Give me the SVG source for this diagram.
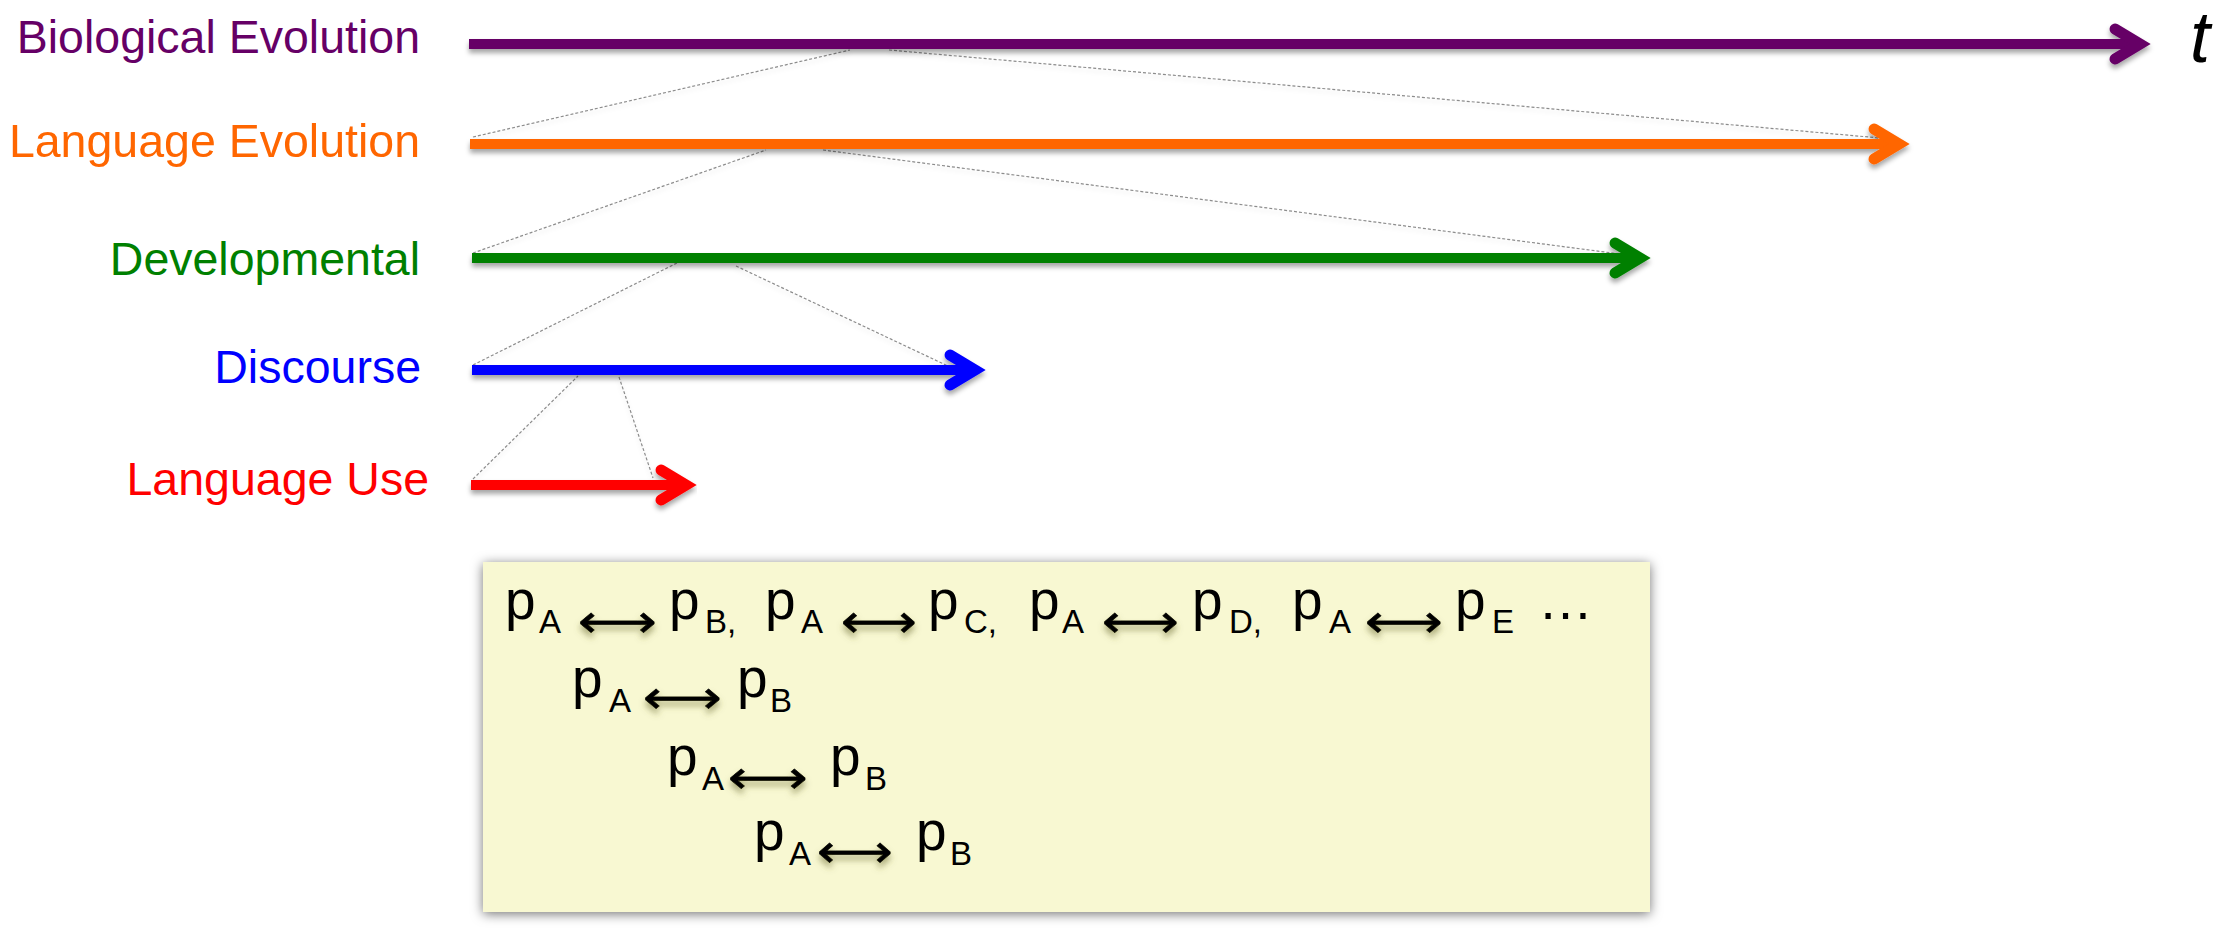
<svg xmlns="http://www.w3.org/2000/svg" xmlns:xlink="http://www.w3.org/1999/xlink" width="2230" height="930" viewBox="0 0 2230 930">
<defs>
<style>
.lbl{font-family:"Liberation Sans",Arial,sans-serif;font-size:46.5px;text-anchor:end}
.tl{fill:none;stroke-width:10;stroke-linecap:butt}
.zoom{fill:none;stroke:#8c8c8c;stroke-width:1.2;stroke-dasharray:3 2}
.bx{font-family:"Liberation Sans",Arial,sans-serif;fill:#000}
.m{font-family:"Liberation Sans Narrow","Liberation Sans",Arial,sans-serif;font-size:55px}
.s{font-size:33px}
.ar{font-family:"DejaVu Sans",sans-serif;font-size:46px;fill:#000;stroke:#000;stroke-width:0.6}
</style>
<path id="head" d="M-36,-15 L-11,0 L-36,15" fill="none" stroke-width="11" stroke-linecap="round" stroke-linejoin="miter"/>
<filter id="sh" x="-5%" y="-50%" width="110%" height="200%">
<feDropShadow dx="0" dy="4" stdDeviation="2.5" flood-color="#000" flood-opacity="0.35"/>
</filter>
<filter id="shl" x="-5%" y="-5%" width="110%" height="110%">
<feDropShadow dx="0" dy="3" stdDeviation="2" flood-color="#000" flood-opacity="0.12"/>
</filter>
<filter id="boxsh" x="-5%" y="-10%" width="110%" height="120%">
<feDropShadow dx="0" dy="2" stdDeviation="6" flood-color="#000" flood-opacity="0.55"/>
</filter>
<filter id="arsh" x="-10%" y="-50%" width="120%" height="200%">
<feDropShadow dx="0" dy="5" stdDeviation="3" flood-color="#6b6b30" flood-opacity="0.55"/>
</filter>
</defs>
<rect width="2230" height="930" fill="#fff"/>

<g id="connectors" filter="url(#shl)">
<line class="zoom" x1="473" y1="137" x2="850" y2="50"/>
<line class="zoom" x1="889" y1="50" x2="1880" y2="138"/>
<line class="zoom" x1="473" y1="253" x2="766" y2="150"/>
<line class="zoom" x1="823" y1="150" x2="1620" y2="254"/>
<line class="zoom" x1="473" y1="365" x2="677" y2="263"/>
<line class="zoom" x1="736" y1="266" x2="950" y2="367"/>
<line class="zoom" x1="473" y1="479" x2="578" y2="376"/>
<line class="zoom" x1="619" y1="377" x2="653" y2="478"/>
</g>

<g id="biological">
<text class="lbl" x="420" y="53" fill="#660066">Biological Evolution</text>
<g filter="url(#sh)" stroke="#660066">
<line class="tl" x1="469" y1="44" x2="2140" y2="44"/>
<use xlink:href="#head" x="2151" y="44"/>
</g>
<text x="2190" y="62" font-family="Liberation Sans, Arial, sans-serif" font-style="italic" font-size="72" fill="#000">t</text>
</g>

<g id="language-evolution">
<text class="lbl" x="420" y="157" fill="#FF6600">Language Evolution</text>
<g filter="url(#sh)" stroke="#FF6600">
<line class="tl" x1="470" y1="144" x2="1899" y2="144"/>
<use xlink:href="#head" x="1910" y="144"/>
</g>
</g>

<g id="developmental">
<text class="lbl" x="420" y="275" fill="#008000">Developmental</text>
<g filter="url(#sh)" stroke="#008000">
<line class="tl" x1="472" y1="258" x2="1640" y2="258"/>
<use xlink:href="#head" x="1651" y="258"/>
</g>
</g>

<g id="discourse">
<text class="lbl" x="421" y="383" fill="#0000FF">Discourse</text>
<g filter="url(#sh)" stroke="#0000FF">
<line class="tl" x1="472" y1="370" x2="975" y2="370"/>
<use xlink:href="#head" x="986" y="370"/>
</g>
</g>

<g id="language-use">
<text class="lbl" x="429" y="495" fill="#FF0000">Language Use</text>
<g filter="url(#sh)" stroke="#FF0000">
<line class="tl" x1="471" y1="485" x2="686" y2="485"/>
<use xlink:href="#head" x="697" y="485"/>
</g>
</g>

<g id="pairs-box">
<rect x="483" y="562" width="1167" height="350" fill="#F8F8D2" filter="url(#boxsh)"/>
<text class="bx"><tspan class="m" x="505" y="619">p</tspan><tspan class="s" x="539" y="633">A</tspan></text>
<text class="bx"><tspan class="m" x="669" y="619">p</tspan><tspan class="s" x="705" y="633">B,</tspan></text>
<text class="bx"><tspan class="m" x="765" y="619">p</tspan><tspan class="s" x="801" y="633">A</tspan></text>
<text class="bx"><tspan class="m" x="928" y="619">p</tspan><tspan class="s" x="964" y="633">C,</tspan></text>
<text class="bx"><tspan class="m" x="1029" y="619">p</tspan><tspan class="s" x="1062" y="633">A</tspan></text>
<text class="bx"><tspan class="m" x="1192" y="619">p</tspan><tspan class="s" x="1229" y="633">D,</tspan></text>
<text class="bx"><tspan class="m" x="1292" y="619">p</tspan><tspan class="s" x="1329" y="633">A</tspan></text>
<text class="bx"><tspan class="m" x="1455" y="619">p</tspan><tspan class="s" x="1492" y="633">E</tspan></text>
<text class="bx m" x="1538" y="619">…</text>
<text class="bx"><tspan class="m" x="572" y="697">p</tspan><tspan class="s" x="609" y="712">A</tspan></text>
<text class="bx"><tspan class="m" x="737" y="697">p</tspan><tspan class="s" x="770" y="712">B</tspan></text>
<text class="bx"><tspan class="m" x="667" y="775">p</tspan><tspan class="s" x="702" y="790">A</tspan></text>
<text class="bx"><tspan class="m" x="830" y="775">p</tspan><tspan class="s" x="865" y="790">B</tspan></text>
<text class="bx"><tspan class="m" x="754" y="850">p</tspan><tspan class="s" x="789" y="865">A</tspan></text>
<text class="bx"><tspan class="m" x="916" y="850">p</tspan><tspan class="s" x="950" y="865">B</tspan></text>
<g filter="url(#arsh)">
<text class="ar" x="578" y="637" textLength="79" lengthAdjust="spacingAndGlyphs">⟷</text>
<text class="ar" x="841" y="637" textLength="76" lengthAdjust="spacingAndGlyphs">⟷</text>
<text class="ar" x="1102" y="637" textLength="77" lengthAdjust="spacingAndGlyphs">⟷</text>
<text class="ar" x="1365" y="637" textLength="78" lengthAdjust="spacingAndGlyphs">⟷</text>
<text class="ar" x="643" y="713" textLength="79" lengthAdjust="spacingAndGlyphs">⟷</text>
<text class="ar" x="728" y="793" textLength="80" lengthAdjust="spacingAndGlyphs">⟷</text>
<text class="ar" x="817" y="867" textLength="76" lengthAdjust="spacingAndGlyphs">⟷</text>
</g>
</g>
</svg>
